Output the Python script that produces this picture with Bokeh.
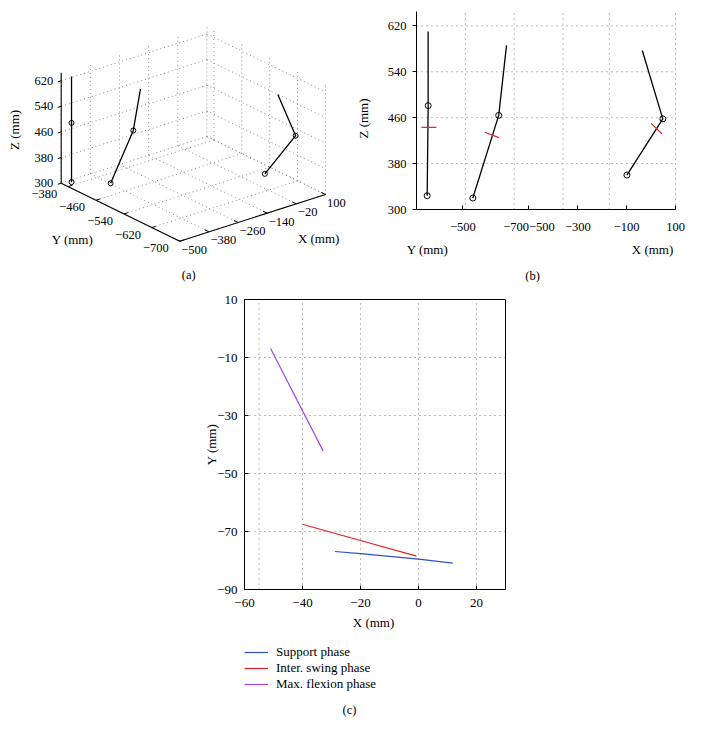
import numpy as np
from bokeh.plotting import figure
from bokeh.layouts import column, row
from bokeh.models import Range1d, FixedTicker, Legend, LegendItem
from bokeh.core.properties import value
from bokeh.embed import file_html
from bokeh.resources import INLINE

FONT = "Liberation Serif"

# ---------------------------------------------------------------- data
# axis limits shared by the 3-D views (mm)
X_LIM = (-500, 100)
Y_LIM = (-700, -360)
Z_LIM = (300, 645)
Z_TICKS = [300, 380, 460, 540, 620]

# (a) 3-D view: ticks
A_X_TICKS = [-500, -380, -260, -140, -20, 100]
A_Y_TICKS = [-380, -460, -540, -620, -700]
# (a) leg points (hip, knee, ankle), mm
A_LEG1_X = [-469, -469, -469]
A_LEG1_Y = [-368, -368, -368]
A_LEG1_Z = [630, 485, 300]
A_LEG2_X = [-287, -318, -410]
A_LEG2_Y = [-439, -440, -439]
A_LEG2_Z = [585, 463, 320]
A_LEG3_X = [40, 69, -42]
A_LEG3_Y = [-605, -636, -625]
A_LEG3_Z = [576, 457, 359]

# (b) side view: ticks
B_X_TICKS = [-500, -300, -100, 100]
B_Y_TICKS = [-500, -700]
# (b) leg points: position along the bottom axis (X-axis mm scale) and Z (mm)
B_LEG1_H = [-913, -913, -917]
B_LEG1_Z = [610, 481, 324]
B_LEG2_H = [-592, -624, -730]
B_LEG2_Z = [586, 464, 320]
B_LEG3_H = [-36, 48, -99]
B_LEG3_Z = [577, 458, 360]
# (b) red marks on the shank
B_MARK_H = [-910, -652, 22]
B_MARK_Z = [443, 430, 441]
B_MARK_ANGLE_DEG = [0, -21, -44]

# (c) trajectories (mm)
C_X_LIM = (-60, 30)
C_Y_LIM = (-90, 10)
C_X_TICKS = [-60, -40, -20, 0, 20]
C_Y_TICKS = [10, -10, -30, -50, -70, -90]
C_X_GRID = [-55, -40, -20, 0, 20]
C_Y_GRID = [-10, -30, -50, -70]
SUPPORT_X = [-28.8, -20, 0, 11.8]
SUPPORT_Y = [-76.9, -77.6, -79.5, -80.9]
SWING_X = [-39.8, -20, -0.7]
SWING_Y = [-67.6, -73.1, -78.5]
FLEX_X = [-51.0, -32.9]
FLEX_Y = [-6.9, -42.2]
C_LABELS = ["Support phase", "Inter. swing phase", "Max. flexion phase"]

BLUE = "#2f4fc4"
RED = "#e3202a"
PURPLE = "#a646e6"
GRID_GRAY = "#7a7a7a"

TXT = dict(text_font=value(FONT), text_color="black")


def lab(v):
    return str(v).replace("-", "\u2212")


def lin(v0, p0, v1, p1, p):
    """linear map: value v0 at pixel p0, v1 at pixel p1 -> value at pixel p"""
    return v0 + (p - p0) * (v1 - v0) / (p1 - p0)


def style_axis(ax, size):
    ax.axis_line_color = "black"
    ax.axis_line_width = 1
    ax.major_tick_line_color = "black"
    ax.minor_tick_line_color = None
    ax.major_label_text_font = FONT
    ax.major_label_text_color = "black"
    ax.major_label_text_font_size = size


# ================================================================ (a)
AW, AH = 350, 282
A_ORIGIN = (60.7, 182.7)   # page position of (Xmin, Ymax, Zmin)
A_VX = (145.7, -46.7)      # screen vector of the full X span
A_VY = (118.6, 58.0)       # screen vector of the full Y span (Ymax -> Ymin)
A_VZ = (0.0, -110.5)       # screen vector of the full Z span


def proj_a(X, Y, Z):
    X = np.asarray(X, float); Y = np.asarray(Y, float); Z = np.asarray(Z, float)
    u = (X - X_LIM[0]) / (X_LIM[1] - X_LIM[0])
    v = (Y_LIM[1] - Y) / (Y_LIM[1] - Y_LIM[0])
    w = (Z - Z_LIM[0]) / (Z_LIM[1] - Z_LIM[0])
    sx = A_ORIGIN[0] + u * A_VX[0] + v * A_VY[0] + w * A_VZ[0]
    sy = A_ORIGIN[1] + u * A_VX[1] + v * A_VY[1] + w * A_VZ[1]
    return sx, sy


fa = figure(width=AW, height=AH, x_range=Range1d(0, AW), y_range=Range1d(AH, 0),
            x_axis_type=None, y_axis_type=None, output_backend="svg", toolbar_location=None,
            min_border=0, outline_line_color=None)

xmin, xmax = X_LIM
ymin, ymax = Y_LIM
zmin, zmax = Z_LIM
s0, s1 = [], []
for X in A_X_TICKS:
    s0.append((X, ymax, zmin)); s1.append((X, ymin, zmin))      # floor
    s0.append((X, ymax, zmin)); s1.append((X, ymax, zmax))      # back-left wall
for Y in A_Y_TICKS:
    s0.append((xmin, Y, zmin)); s1.append((xmax, Y, zmin))      # floor
    s0.append((xmax, Y, zmin)); s1.append((xmax, Y, zmax))      # back-right wall
for Z in Z_TICKS:
    s0.append((xmin, ymax, Z)); s1.append((xmax, ymax, Z))
    s0.append((xmax, ymax, Z)); s1.append((xmax, ymin, Z))
s0 = np.array(s0); s1 = np.array(s1)
gx0, gy0 = proj_a(s0[:, 0], s0[:, 1], s0[:, 2])
gx1, gy1 = proj_a(s1[:, 0], s1[:, 1], s1[:, 2])
fa.segment(gx0, gy0, gx1, gy1, line_color="#8c8c8c", line_width=1, line_dash="1 3")

ax0 = np.array([(xmin, ymax, zmin), (xmin, ymax, zmin), (xmin, ymin, zmin)])
ax1 = np.array([(xmin, ymax, zmax), (xmin, ymin, zmin), (xmax, ymin, zmin)])
a0 = proj_a(ax0[:, 0], ax0[:, 1], ax0[:, 2]); a1 = proj_a(ax1[:, 0], ax1[:, 1], ax1[:, 2])
fa.segment(a0[0], a0[1], a1[0], a1[1], line_color="black", line_width=1.1)

t0, t1 = [], []
for X in A_X_TICKS:
    t0.append((X, ymin, zmin)); t1.append((X, ymin + 12, zmin))
for Y in A_Y_TICKS:
    t0.append((xmin, Y, zmin)); t1.append((xmin + 16, Y, zmin))
for Z in Z_TICKS:
    t0.append((xmin, ymax, Z)); t1.append((xmin - 14, ymax, Z))
t0 = np.array(t0); t1 = np.array(t1)
k0 = proj_a(t0[:, 0], t0[:, 1], t0[:, 2]); k1 = proj_a(t1[:, 0], t1[:, 1], t1[:, 2])
fa.segment(k0[0], k0[1], k1[0], k1[1], line_color="black", line_width=1)

zx, zy = proj_a([xmin] * len(Z_TICKS), [ymax] * len(Z_TICKS), Z_TICKS)
fa.text(zx - 8, zy, text=[lab(z) for z in Z_TICKS], text_align="right", text_baseline="middle",
        text_font_size="12.5px", **TXT)
yx, yy = proj_a([xmin] * len(A_Y_TICKS), A_Y_TICKS, [zmin] * len(A_Y_TICKS))
fa.text(yx - 11, yy + 7, text=[lab(y) for y in A_Y_TICKS], text_align="right", text_baseline="middle",
        text_font_size="12.5px", **TXT)
xx, xy = proj_a(A_X_TICKS, [ymin] * len(A_X_TICKS), [zmin] * len(A_X_TICKS))
fa.text(xx + 1.5, xy + 8.5, text=[lab(x) for x in A_X_TICKS], text_align="left", text_baseline="middle",
        text_font_size="12.5px", **TXT)

zlx, zly = proj_a([xmin], [ymax], [(zmin + zmax) / 2])
fa.text(zlx - 47, zly + 2, text=["Z (mm)"], angle=np.pi / 2, text_align="center", text_baseline="middle",
        text_font_size="13px", **TXT)
ylx, yly = proj_a([xmin], [(ymin + ymax) / 2], [zmin])
fa.text(ylx - 48, yly + 27, text=["Y (mm)"], text_align="center", text_baseline="middle",
        text_font_size="13px", **TXT)
xlx, xly = proj_a([(xmin + xmax) / 2], [ymin], [zmin])
fa.text(xlx + 66, xly + 21, text=["X (mm)"], text_align="center", text_baseline="middle",
        text_font_size="13px", **TXT)
cx, cy = proj_a([xmin], [ymin], [zmin])
fa.text(cx + 9, cy + 34, text=["(a)"], text_align="center", text_baseline="middle",
        text_font_size="12.5px", **TXT)

for LX, LY, LZ in [(A_LEG1_X, A_LEG1_Y, A_LEG1_Z), (A_LEG2_X, A_LEG2_Y, A_LEG2_Z),
                   (A_LEG3_X, A_LEG3_Y, A_LEG3_Z)]:
    px, py = proj_a(LX, LY, LZ)
    fa.line(px, py, line_color="black", line_width=1.3)
    fa.scatter(px[1:], py[1:], marker="circle", size=5, fill_color=None, line_color="black", line_width=1)

# ================================================================ (b)
B_K = 1.355   # horizontal scale of Y relative to X in the side view


def proj_b(X, Y):
    return np.asarray(X, float) - B_K * (np.asarray(Y, float) - Y_LIM[0])


h_left = float(proj_b(xmin, ymax))
h_right = float(proj_b(xmax, ymin))
BW, BH = 344, 282
B_PX0 = 350                       # page x of the left edge of this figure
B_BOX = (416, 675, 11, 209)       # page px of axis box: left, right, top, bottom


def bx(p):
    return lin(h_left, B_BOX[0], h_right, B_BOX[1], p)


def bz(p):
    return lin(zmin, B_BOX[3], zmax, B_BOX[2], p)


fb = figure(width=BW, height=BH, x_range=Range1d(bx(B_PX0), bx(B_PX0 + BW)), y_range=Range1d(bz(BH), bz(0)),
            output_backend="svg", toolbar_location=None, outline_line_color=None, min_border=0)
fb.grid.visible = False

vh = [float(proj_b(X, ymax)) for X in B_X_TICKS if X != xmin] + \
     [float(proj_b(xmax, Y)) for Y in B_Y_TICKS]
fb.segment(vh, [zmin] * len(vh), vh, [zmax] * len(vh), line_color=GRID_GRAY, line_width=1, line_dash="1 4")
zl = [z for z in Z_TICKS if z != zmin]
fb.segment([h_left] * len(zl), zl, [h_right] * len(zl), zl, line_color=GRID_GRAY, line_width=1,
           line_dash="1 4")

b_labels = {}
for Y in B_Y_TICKS:
    b_labels[int(round(float(proj_b(xmin, Y))))] = lab(Y)
for X in B_X_TICKS:
    key = int(X)
    b_labels[key] = (b_labels[key] + lab(X)) if key in b_labels else lab(X)
fb.xaxis.ticker = FixedTicker(ticks=sorted(b_labels.keys()))
fb.xaxis.major_label_overrides = b_labels
fb.xaxis.fixed_location = zmin
fb.xaxis.bounds = (h_left, h_right)
fb.yaxis.ticker = FixedTicker(ticks=Z_TICKS)
fb.yaxis.fixed_location = h_left
fb.yaxis.bounds = (zmin, zmax)
for ax in fb.axis:
    style_axis(ax, "12.5px")
fb.xaxis.major_tick_in = 4
fb.xaxis.major_tick_out = 0
fb.xaxis.major_label_standoff = 13
fb.yaxis.major_tick_in = 0
fb.yaxis.major_tick_out = 4
fb.yaxis.major_label_standoff = 6

for LH, LZ in [(B_LEG1_H, B_LEG1_Z), (B_LEG2_H, B_LEG2_Z), (B_LEG3_H, B_LEG3_Z)]:
    fb.line(LH, LZ, line_color="black", line_width=1.3)
    fb.scatter(LH[1:], LZ[1:], marker="circle", size=6, fill_color=None, line_color="black", line_width=1)
fb.scatter(B_MARK_H, B_MARK_Z, marker="dash", size=15, angle=np.radians(B_MARK_ANGLE_DEG),
           line_color="#e8262c", line_width=1.2)

fb.text([bx(363)], [bz(118)], text=["Z (mm)"], angle=np.pi / 2, text_align="center", text_baseline="middle",
        text_font_size="13px", **TXT)
fb.text([bx(427), bx(652)], [bz(249), bz(249)], text=["Y (mm)", "X (mm)"], text_align="center",
        text_baseline="middle", text_font_size="13px", **TXT)
fb.text([bx(532)], [bz(275)], text=["(b)"], text_align="center", text_baseline="middle",
        text_font_size="12.5px", **TXT)

# ================================================================ (c)
CW, CH = 694, 445
C_PY0 = 282                       # page y of the top edge of this figure
C_BOX = (244, 505, 299, 589)      # page px of axis box: left, right, top, bottom


def cxp(p):
    return lin(C_X_LIM[0], C_BOX[0], C_X_LIM[1], C_BOX[1], p)


def cyp(p):
    return lin(C_Y_LIM[0], C_BOX[3], C_Y_LIM[1], C_BOX[2], p)


fc = figure(width=CW, height=CH, x_range=Range1d(cxp(0), cxp(CW)), y_range=Range1d(cyp(C_PY0 + CH), cyp(C_PY0)),
            output_backend="svg", toolbar_location=None, outline_line_color=None, min_border=0)
fc.grid.visible = False
fc.segment(C_X_GRID, [C_Y_LIM[0]] * len(C_X_GRID), C_X_GRID, [C_Y_LIM[1]] * len(C_X_GRID),
           line_color=GRID_GRAY, line_width=1, line_dash="1 4")
fc.segment([C_X_LIM[0]] * len(C_Y_GRID), C_Y_GRID, [C_X_LIM[1]] * len(C_Y_GRID), C_Y_GRID,
           line_color=GRID_GRAY, line_width=1, line_dash="1 4")
fc.quad(left=[C_X_LIM[0]], right=[C_X_LIM[1]], bottom=[C_Y_LIM[0]], top=[C_Y_LIM[1]],
        fill_color=None, line_color="black", line_width=1)

fc.xaxis.ticker = FixedTicker(ticks=C_X_TICKS)
fc.yaxis.ticker = FixedTicker(ticks=C_Y_TICKS)
fc.xaxis.fixed_location = C_Y_LIM[0]
fc.xaxis.bounds = C_X_LIM
fc.yaxis.fixed_location = C_X_LIM[0]
fc.yaxis.bounds = C_Y_LIM
for ax in fc.axis:
    style_axis(ax, "13px")
    ax.major_tick_in = 4
    ax.major_tick_out = 0
fc.xaxis.major_label_standoff = 9
fc.yaxis.major_label_standoff = 7

r_sup = fc.line(SUPPORT_X, SUPPORT_Y, line_color=BLUE, line_width=1.2)
r_sw = fc.line(SWING_X, SWING_Y, line_color=RED, line_width=1.2)
r_fl = fc.line(FLEX_X, FLEX_Y, line_color=PURPLE, line_width=1.2)

fc.text([cxp(373)], [cyp(622)], text=["X (mm)"], text_align="center", text_baseline="middle",
        text_font_size="13px", **TXT)
fc.text([cxp(211)], [cyp(444)], text=["Y (mm)"], angle=np.pi / 2, text_align="center",
        text_baseline="middle", text_font_size="13px", **TXT)
fc.text([cxp(349)], [cyp(709)], text=["(c)"], text_align="center", text_baseline="middle",
        text_font_size="12.5px", **TXT)

legend = Legend(items=[LegendItem(label=C_LABELS[0], renderers=[r_sup]),
                       LegendItem(label=C_LABELS[1], renderers=[r_sw]),
                       LegendItem(label=C_LABELS[2], renderers=[r_fl])],
                location=(C_BOX[0], C_PY0 + CH - 692), padding=0, margin=0, spacing=0,
                glyph_width=24, glyph_height=16, label_height=16, label_standoff=8,
                border_line_color=None, background_fill_alpha=0,
                label_text_font=FONT, label_text_font_size="13px", label_text_color="black")
fc.add_layout(legend)

for p in (fa, fb, fc):
    p.background_fill_color = "white"
    p.border_fill_color = "white"

layout = column(row(fa, fb), fc)
open("out.html", "w").write(file_html(layout, INLINE))
